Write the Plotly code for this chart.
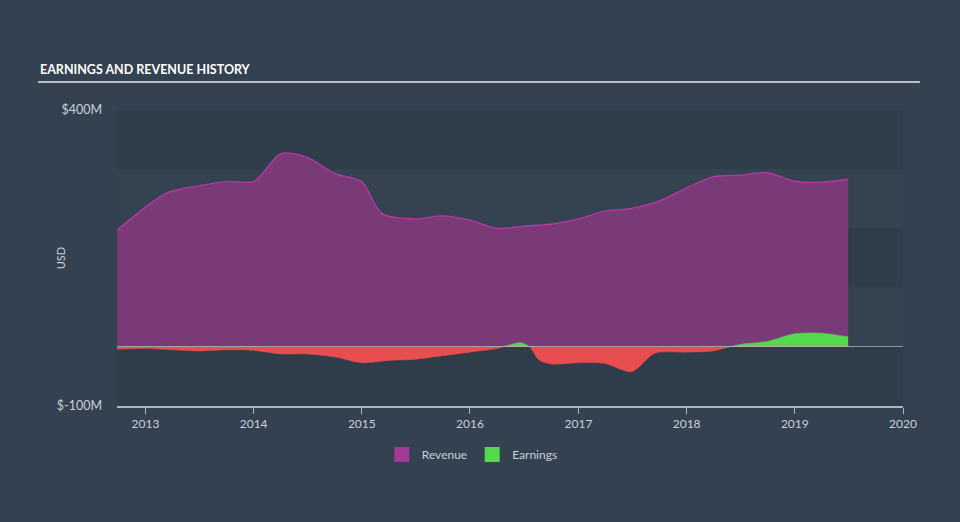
import plotly.graph_objects as go

# ---- data (USD millions) ----
rev_dates = ["2012-09-27", "2013-03-15", "2013-06-30", "2013-10-01", "2014-01-05",
             "2014-04-01", "2014-07-01", "2014-10-01", "2014-12-31", "2015-03-10",
             "2015-06-30", "2015-09-30", "2015-12-31", "2016-03-31", "2016-06-30",
             "2016-09-30", "2016-12-31", "2017-03-31", "2017-06-30", "2017-09-30",
             "2017-12-31", "2018-03-31", "2018-06-30", "2018-09-30", "2018-12-31",
             "2019-03-31", "2019-06-30"]
revenue = [197, 260, 272, 279, 280,
           326, 320, 293, 279, 225,
           216, 221, 214, 200, 204,
           207, 216, 229, 234, 246,
           268, 287, 290, 294, 280,
           278, 283]

earn_dates = ["2012-09-27", "2012-12-31", "2013-03-31", "2013-06-30", "2013-09-30",
              "2013-12-31", "2014-03-31", "2014-06-30", "2014-09-30", "2014-12-31",
              "2015-03-31", "2015-06-30", "2015-09-30", "2015-12-31", "2016-03-31",
              "2016-06-20", "2016-07-20", "2016-08-20", "2016-09-30", "2016-12-31",
              "2017-03-31", "2017-06-30", "2017-09-15", "2017-12-31", "2018-03-31",
              "2018-06-30", "2018-09-30", "2018-12-31", "2019-03-31", "2019-06-30"]
earnings = [-4, -3, -5, -7, -5,
            -6, -12, -12, -17, -27,
            -23, -21, -15, -9, -3,
            7, 0, -22, -29, -27,
            -28, -42, -11, -9, -7,
            4, 9, 22, 23, 17]

year_ticks = ["2013-01-01", "2014-01-01", "2015-01-01", "2016-01-01",
              "2017-01-01", "2018-01-01", "2019-01-01", "2020-01-01"]
year_labels = ["2013", "2014", "2015", "2016", "2017", "2018", "2019", "2020"]

BG = "#334150"
DARK_BAND = "#2f3c4a"
LIGHT_BAND = "#354351"
AXIS_COL = "#aab6c4"
TXT = "#c9d1da"
FONT = "Lato, Open Sans, sans-serif"
REV_FILL = "#7a3a78"
EARN_POS = "#54d84f"
EARN_NEG = "#e84e50"

fig = go.Figure()

# revenue (upper panel, 0..400)
fig.add_trace(go.Scatter(
    x=rev_dates, y=revenue, name="Revenue", mode="lines",
    line=dict(color="#b43aa6", width=1.3, shape="spline", smoothing=0.8),
    fill="tozeroy", fillcolor=REV_FILL, xaxis="x", yaxis="y2",
    showlegend=False,
))
# earnings positive part (clipped to upper panel)
fig.add_trace(go.Scatter(
    x=earn_dates, y=earnings, name="Earnings", mode="lines",
    line=dict(color=EARN_POS, width=0.5, shape="spline", smoothing=0.8),
    fill="tozeroy", fillcolor=EARN_POS, xaxis="x", yaxis="y2",
    showlegend=False,
))
# earnings negative part (clipped to lower panel)
fig.add_trace(go.Scatter(
    x=earn_dates, y=earnings, name="Earnings (loss)", mode="lines",
    line=dict(color=EARN_NEG, width=0.5, shape="spline", smoothing=0.8),
    fill="tozeroy", fillcolor=EARN_NEG, xaxis="x", yaxis="y3",
    showlegend=False,
))
# legend entries (square swatches)
for nm, col in [("Revenue", "#a23a98"), ("Earnings", EARN_POS)]:
    fig.add_trace(go.Scatter(
        x=[None], y=[None], name=nm, mode="markers", xaxis="x", yaxis="y2",
        marker=dict(symbol="square", size=15, color=col), showlegend=True,
    ))

shapes = []
# horizontal bands
for lo, hi, col, ax in [(300, 400, DARK_BAND, "y2"), (200, 300, LIGHT_BAND, "y2"),
                        (100, 200, DARK_BAND, "y2"), (0, 100, LIGHT_BAND, "y2"),
                        (-100, 0, DARK_BAND, "y3")]:
    shapes.append(dict(type="rect", xref="x domain", yref=ax, x0=0, x1=1, y0=lo, y1=hi,
                       fillcolor=col, line=dict(width=0), layer="below"))
# zero line
shapes.append(dict(type="line", xref="x domain", yref="y2", x0=0, x1=1, y0=0, y1=0,
                   line=dict(color="rgba(215,220,228,0.75)", width=1.5), layer="above"))
# title underline
shapes.append(dict(type="line", xref="paper", yref="paper", x0=-0.1005, x1=1.0215,
                   y0=1.095, y1=1.095, line=dict(color="#b8c0c8", width=2)))

fig.update_layout(
    width=960, height=522,
    margin=dict(l=117, r=57, t=110, b=116),
    paper_bgcolor=BG, plot_bgcolor=BG,
    font=dict(family=FONT, color=TXT, size=12),
    shapes=shapes,
    showlegend=True,
    legend=dict(orientation="h", x=0.452, xanchor="center", y=-0.115, yanchor="top",
                font=dict(size=12, color=TXT), itemwidth=30,
                traceorder="normal", bgcolor="rgba(0,0,0,0)"),
    annotations=[
        dict(text="<b>EARNINGS AND REVENUE HISTORY</b>", xref="paper", yref="paper",
             x=-0.101, y=1.105, xanchor="left", yanchor="bottom", showarrow=False,
             font=dict(family="Lato, sans-serif", size=12.5, color="#ffffff")),
        dict(text="USD", xref="paper", yref="paper", x=-0.083, y=0.5, textangle=-90,
             showarrow=False, font=dict(size=11, color=TXT)),
    ],
    xaxis=dict(type="date", range=["2012-09-27", "2020-01-01"],
               tickvals=year_ticks, ticktext=year_labels,
               showgrid=False, zeroline=False, showline=True, linecolor=AXIS_COL,
               linewidth=1.5, ticks="outside", ticklen=6, tickcolor=AXIS_COL,
               tickfont=dict(size=12, color=TXT), anchor="y3"),
    yaxis2=dict(domain=[0.2, 1.0], range=[0, 400], tickvals=[400], ticktext=["$400M"],
                showgrid=False, zeroline=False, showline=False, ticks="",
                ticklabelstandoff=14, tickfont=dict(size=12.5, color=TXT), anchor="x"),
    yaxis3=dict(domain=[0.0, 0.2], range=[-100, 0], tickvals=[-100], ticktext=["$-100M"],
                showgrid=False, zeroline=False, showline=False, ticks="",
                ticklabelstandoff=14, tickfont=dict(size=12.5, color=TXT), anchor="x"),
)

fig.write_html("out.html")
